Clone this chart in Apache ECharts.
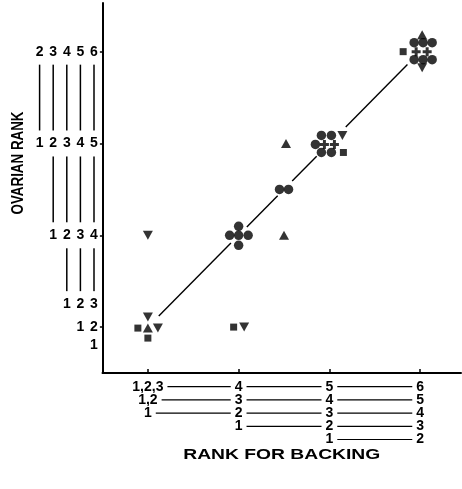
<!DOCTYPE html>
<html><head><meta charset="utf-8">
<script src="https://cdn.jsdelivr.net/npm/echarts@6/dist/echarts.min.js"></script>
<style>html,body{margin:0;padding:0;background:#fff}#c{width:462px;height:489px}</style>
</head><body><div id="c"></div>
<script>
// ---------------- data ----------------
const backingTicks = [1, 2, 3, 4];
const ovarianTicks = [1, 2, 3, 4];
// [rank for backing, ovarian rank]
const circlePoints = [[2,2],[2,2],[2,2],[2,2],[2,2],[2.5,2.5],[2.5,2.5],[3,3],[3,3],[3,3],[3,3],[3,3],[4,4],[4,4],[4,4],[4,4],[4,4],[4,4]];
const triUpPoints = [[1,1],[2.5,2],[2.5,3],[4,4]];
const triDownPoints = [[1,1],[1,1],[1,2],[2,1],[3,3],[4,4]];
const squarePoints = [[1,1],[1,1],[2,1],[3,3],[4,4]];
const plusPoints = [[3,3],[3,3],[4,4],[4,4]];
const fitNodes = [1, 2, 2.5, 3, 4];           // the line ovarian = backing through the groups
const xLabelValues = [1, 2, 3, 4];
const xLabelRows = [
  ['1,2,3','4','5','6'],
  ['1,2','3','4','5'],
  ['1','2','3','4'],
  [null,'1','2','3'],
  [null,null,'1','2']
];
const yLabelRowAt = [4, 3, 2, 1.25, 1, 0.8];
const yLabelRows = [
  ['2','3','4','5','6'],
  ['1','2','3','4','5'],
  [null,'1','2','3','4'],
  [null,null,'1','2','3'],
  [null,null,null,'1','2'],
  [null,null,null,null,'1']
];
const xTitle = 'RANK FOR BACKING';
const yTitle = 'OVARIAN RANK';

// ---------------- layout / style ----------------
// pixel offsets that spread coinciding marks of a group (like the original drawing)
const circleOffsets = [[0,-9],[-9,0],[0,0],[9.5,0],[0,10],[-4.5,0],[4.5,0],[-8,-8],[2,-8],[-14,1],[-8,9],[2,9],[-6,-9],[3,-9],[12,-9],[-6,8],[3,8],[12,8]];
const triUpOffsets = [[0,1],[0,0],[2,0],[2,-17]];
const triDownOffsets = [[0,-10],[10,1],[0,0],[5.5,0],[13,-8],[2,16]];
const squareOffsets = [[-10,1],[0,11],[-5,0],[14,9],[-17,0]];
const plusOffsets = [[-5,1],[5,1],[-4,0],[7,0]];
const fitGapBefore = [0, 0.085, 0.07, 0.14, 0.14];
const fitGapAfter = [0.12, 0.09, 0.09, 0.18, 0];
const INK = '#000';
const FONT = 'Liberation Sans, DejaVu Sans, sans-serif';

const chart = echarts.init(document.getElementById('c'), null, {renderer: 'canvas'});
const pts = (vals, offs) => vals.map((v, i) => ({value: v, symbolOffset: offs[i]}));
const plusPath = 'path://M3,0H6V3H9V6H6V9H3V6H0V3H3Z';

const segs = [];
for (let i = 0; i < fitNodes.length - 1; i++) {
  const a = fitNodes[i] + fitGapAfter[i];
  const b = fitNodes[i + 1] - fitGapBefore[i + 1];
  segs.push({coords: [[a, a], [b, b]]});
}

const option = {
  animation: false,
  backgroundColor: '#fff',
  grid: {left: 102.5, right: 1, top: 3, bottom: 116, containLabel: false},
  xAxis: {
    type: 'value', min: 0.5, max: 4.45,
    axisLine: {show: true, onZero: false, lineStyle: {color: INK, width: 2}},
    axisTick: {show: true, inside: true, length: 4, customValues: backingTicks, lineStyle: {color: INK, width: 1.5}},
    axisLabel: {show: false}, splitLine: {show: false}
  },
  yAxis: {
    type: 'value', min: 0.5, max: 4.53,
    axisLine: {show: true, onZero: false, lineStyle: {color: INK, width: 2}},
    axisTick: {show: true, inside: false, length: 4, customValues: ovarianTicks, lineStyle: {color: INK, width: 1.5}},
    axisLabel: {show: false}, splitLine: {show: false}
  },
  series: [
    {type: 'lines', coordinateSystem: 'cartesian2d', data: segs, silent: true,
     lineStyle: {color: INK, width: 1.4, opacity: 1}, z: 2},
    {type: 'scatter', symbol: 'circle', symbolSize: 9.5, itemStyle: {color: INK}, data: pts(circlePoints, circleOffsets), z: 3},
    {type: 'scatter', symbol: 'triangle', symbolSize: [10, 9], itemStyle: {color: INK}, data: pts(triUpPoints, triUpOffsets), z: 3},
    {type: 'scatter', symbol: 'triangle', symbolRotate: 180, symbolSize: [10, 9], itemStyle: {color: INK}, data: pts(triDownPoints, triDownOffsets), z: 3},
    {type: 'scatter', symbol: 'rect', symbolSize: 7, itemStyle: {color: INK}, data: pts(squarePoints, squareOffsets), z: 3},
    {type: 'scatter', symbol: plusPath, symbolSize: 9, itemStyle: {color: INK}, data: pts(plusPoints, plusOffsets), z: 3}
  ]
};
chart.setOption(option);

// ---- rank-correspondence labels drawn beside the axes ----
const toPx = (x, y) => chart.convertToPixel({gridIndex: 0}, [x, y]);
const axisX = toPx(0.5, 1)[0];
const axisY = toPx(1, 0.5)[1];
const g = [];
const labelStyle = (t, pad) => ({text: t, fill: INK, font: 'bold 14px ' + FONT, align: 'center', verticalAlign: 'middle', backgroundColor: '#fff', padding: pad});

// x rows
xLabelRows.forEach((row, r) => {
  const py = axisY + 13.7 + 13.2 * r;
  let prev = null;
  row.forEach((t, c) => {
    if (t === null) return;
    const px = toPx(xLabelValues[c], 1)[0];
    if (prev !== null) g.push({type: 'line', z: 10, shape: {x1: prev, y1: py, x2: px, y2: py}, style: {stroke: INK, lineWidth: 1.2}});
    prev = px;
  });
  row.forEach((t, c) => {
    if (t === null) return;
    const px = toPx(xLabelValues[c], 1)[0];
    g.push({type: 'text', z: 11, x: px, y: py, style: labelStyle(t, [0, 4])});
  });
});

// y columns
const nCols = yLabelRows[0].length;
for (let c = 0; c < nCols; c++) {
  const px = axisX - 8.5 - 13.6 * (nCols - 1 - c);
  let prevV = null;
  yLabelRows.forEach((row, r) => {
    if (row[c] === null) return;
    const v = yLabelRowAt[r];
    if (prevV !== null && prevV - v >= 0.5) {
      g.push({type: 'line', z: 10, shape: {x1: px, y1: toPx(1, prevV)[1], x2: px, y2: toPx(1, v)[1]}, style: {stroke: INK, lineWidth: 1.5}});
    }
    prevV = v;
  });
}
for (let c = 0; c < nCols; c++) {
  const px = axisX - 8.5 - 13.6 * (nCols - 1 - c);
  yLabelRows.forEach((row, r) => {
    if (row[c] === null) return;
    g.push({type: 'text', z: 11 + r, x: px, y: toPx(1, yLabelRowAt[r])[1], style: labelStyle(row[c], [6, 2])});
  });
}

// titles
const ctx = document.createElement('canvas').getContext('2d');
const xTitleFont = 'bold 15px ' + FONT;
const yTitleFont = 'bold 16px ' + FONT;
ctx.font = xTitleFont;
const xw = ctx.measureText(xTitle).width;
ctx.font = yTitleFont;
const yw = ctx.measureText(yTitle).width;
g.push({type: 'text', z: 12, x: (axisX + toPx(4.45, 1)[0]) / 2, y: 455, scaleX: 197 / xw,
  style: {text: xTitle, fill: INK, font: xTitleFont, align: 'center', verticalAlign: 'middle'}});
g.push({type: 'text', z: 12, x: 19, y: 163, rotation: Math.PI / 2, scaleX: 103 / yw,
  style: {text: yTitle, fill: INK, font: yTitleFont, align: 'center', verticalAlign: 'middle'}});

chart.setOption({graphic: {elements: g}});
</script>
</body></html>
